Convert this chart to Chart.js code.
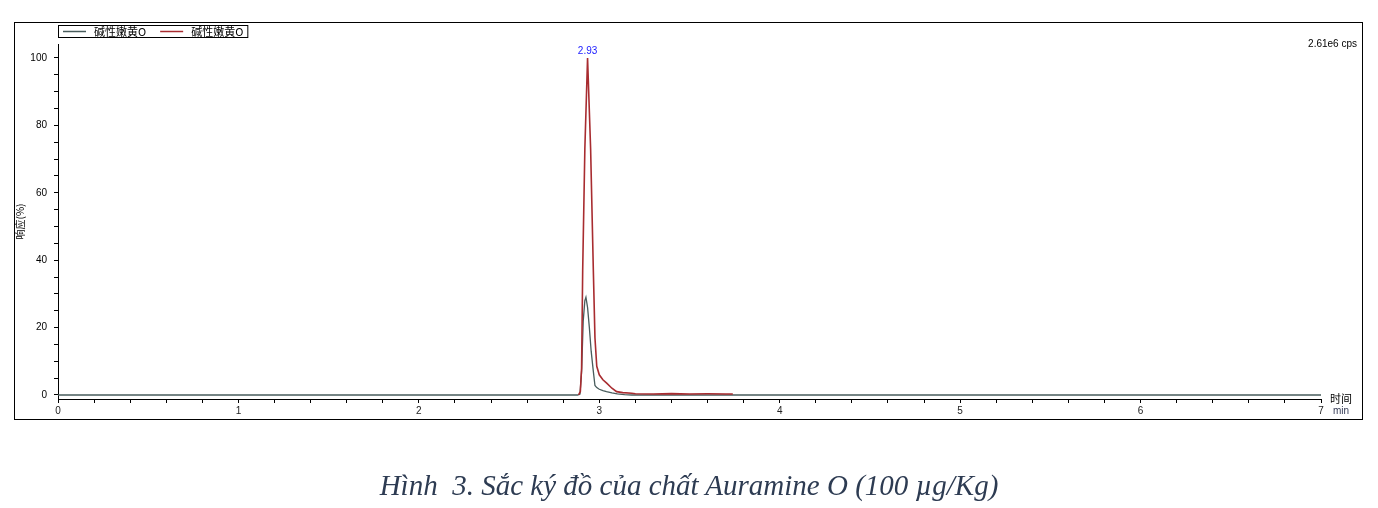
<!DOCTYPE html>
<html>
<head>
<meta charset="utf-8">
<script src="https://cdn.jsdelivr.net/npm/chart.js@4.4.0/dist/chart.umd.min.js"></script>
<style>
  html, body { margin: 0; padding: 0; background: #fff; }
  #wrap { position: relative; width: 1378px; height: 508px; }
  #frame { position: absolute; left: 14px; top: 22px; width: 1347px; height: 396px; border: 1px solid #000; pointer-events: none; }
  #caption { position: absolute; left: 0; top: 469px; width: 1378px; text-align: center;
    font: italic 29px/32px "Liberation Serif", "DejaVu Serif", serif; color: #2d3b52; }
</style>
</head>
<body>
<div id="wrap">
  <canvas id="chart" width="1378" height="508"></canvas>
  <div id="frame"></div>
  <div id="caption">Hình&nbsp; 3. Sắc ký đồ của chất Auramine O (100 µg/Kg)</div>
</div>
<script>
// series labels
const seriesNames = ["碱性嫩黄O", "碱性嫩黄O"];

// grey trace (time in min, response %)
const greyTime  = [0, 2.88, 2.893, 2.902, 2.911, 2.92, 2.926, 2.935, 2.945, 2.955, 2.967, 2.976, 2.986, 3.0, 3.02, 3.04, 3.07, 3.1, 3.14, 3.18, 7];
const greyValue = [0, 0,    0.3,   7,     22,    28,   29,    26,    20,    13,    7,     2.8,   2.2,   1.7, 1.3,  1.0,  0.6,  0.3, 0.1,  0,    0];

// red trace
const redTime  = [2.885, 2.895, 2.902, 2.908, 2.92, 2.935, 2.952, 2.967, 2.976, 2.986, 3.0, 3.02, 3.041, 3.07, 3.096, 3.13, 3.18, 3.2, 3.3, 3.4, 3.5, 3.6, 3.7, 3.74];
const redValue = [0,     1,     8,     37,    73,   100,   73,    37,    17,    8.5,   6,   4.5,  3.5,   2,    1,     0.7,  0.5,  0.35, 0.3, 0.4, 0.3, 0.35, 0.3, 0.3];

// axis ticks
const xTickLabels = [0, 1, 2, 3, 4, 5, 6, 7];
const yTickLabels = [0, 20, 40, 60, 80, 100];

const peakLabel = "2.93";
const peakTime = 2.935;
const peakValue = 100;

const greyColor = "#485c5c";
const redColor = "#a82c30";

const toPoints = (xs, ys) => xs.map((x, i) => ({ x: x, y: ys[i] }));

const extras = {
  id: "extras",
  afterDraw(chart) {
    const ctx = chart.ctx;
    const xs = chart.scales.x, ys = chart.scales.y;
    ctx.save();
    // legend box
    ctx.font = "11px 'Noto Sans CJK SC', sans-serif";
    ctx.textBaseline = "middle";
    let x = 63;
    const ly = 31.5;
    chart.data.datasets.forEach(ds => {
      ctx.strokeStyle = ds.borderColor;
      ctx.lineWidth = 1.5;
      ctx.beginPath(); ctx.moveTo(x, ly); ctx.lineTo(x + 23, ly); ctx.stroke();
      x += 31;
      ctx.fillStyle = "#000";
      ctx.textAlign = "left";
      ctx.fillText(ds.label, x, ly);
      x += ctx.measureText(ds.label).width + 14;
    });
    ctx.strokeStyle = "#000";
    ctx.lineWidth = 1;
    ctx.strokeRect(58.5, 25.5, x - 58 - 10, 12);

    // peak label
    ctx.font = "10px 'Liberation Sans', Arial, sans-serif";
    ctx.fillStyle = "#1a1aff";
    ctx.textAlign = "center";
    ctx.textBaseline = "alphabetic";
    ctx.fillText(peakLabel, xs.getPixelForValue(peakTime), ys.getPixelForValue(peakValue) - 4);

    // intensity
    ctx.fillStyle = "#000";
    ctx.textAlign = "right";
    ctx.fillText("2.61e6 cps", 1357, 47);

    // x-axis unit
    ctx.textAlign = "left";
    ctx.font = "11px 'Noto Sans CJK SC', sans-serif";
    ctx.textBaseline = "middle";
    ctx.fillText("时间", 1330, 399);
    ctx.font = "10px 'Liberation Sans', Arial, sans-serif";
    ctx.fillStyle = "#333a55";
    ctx.fillText("min", 1333, 411);
    ctx.restore();
  }
};

new Chart(document.getElementById("chart"), {
  type: "line",
  data: {
    datasets: [
      {
        label: seriesNames[0],
        data: toPoints(greyTime, greyValue),
        borderColor: greyColor,
        borderWidth: 1.3,
        pointRadius: 0,
        tension: 0,
        order: 1
      },
      {
        label: seriesNames[1],
        data: toPoints(redTime, redValue),
        borderColor: redColor,
        borderWidth: 1.6,
        pointRadius: 0,
        tension: 0,
        order: 0
      }
    ]
  },
  options: {
    responsive: false,
    animation: false,
    events: [],
    layout: { padding: { top: 44, left: 0, right: 57, bottom: 89 } },
    plugins: { legend: { display: false }, tooltip: { enabled: false } },
    scales: {
      x: {
        type: "linear",
        min: 0,
        max: 7,
        afterFit: s => { s.height = 20; },
        border: { display: true, color: "#000", width: 1 },
        grid: { drawOnChartArea: false, drawTicks: true, tickLength: 4, color: "#000" },
        ticks: {
          stepSize: 0.2,
          maxTicksLimit: 100,
          autoSkip: false,
          maxRotation: 0,
          padding: 2,
          color: "#222",
          font: { family: "'Liberation Sans', Arial, sans-serif", size: 10 },
          callback: v => {
            const r = Math.round(v);
            return Math.abs(v - r) < 1e-6 && xTickLabels.includes(r) ? String(r) : "";
          }
        }
      },
      y: {
        min: -1.19,
        max: 104.15,
        afterFit: s => { s.width = 58; },
        afterBuildTicks: s => {
          s.ticks = s.ticks.filter(t => t.value >= 0 && t.value <= 100 && Math.abs(t.value / 5 - Math.round(t.value / 5)) < 1e-6);
        },
        border: { display: true, color: "#000", width: 1 },
        grid: { drawOnChartArea: false, drawTicks: true, tickLength: 4, color: "#000" },
        title: {
          display: true,
          text: "响应(%)",
          color: "#000",
          font: { family: "'Noto Sans CJK SC', sans-serif", size: 10 },
          padding: { top: 14, bottom: 0 }
        },
        ticks: {
          stepSize: 5,
          includeBounds: false,
          autoSkip: false,
          padding: 7,
          color: "#000",
          font: { family: "'Liberation Sans', Arial, sans-serif", size: 10 },
          callback: v => {
            const r = Math.round(v);
            return yTickLabels.includes(r) && Math.abs(v - r) < 1e-6 ? String(r) : "";
          }
        }
      }
    }
  },
  plugins: [extras]
});
</script>
</body>
</html>
